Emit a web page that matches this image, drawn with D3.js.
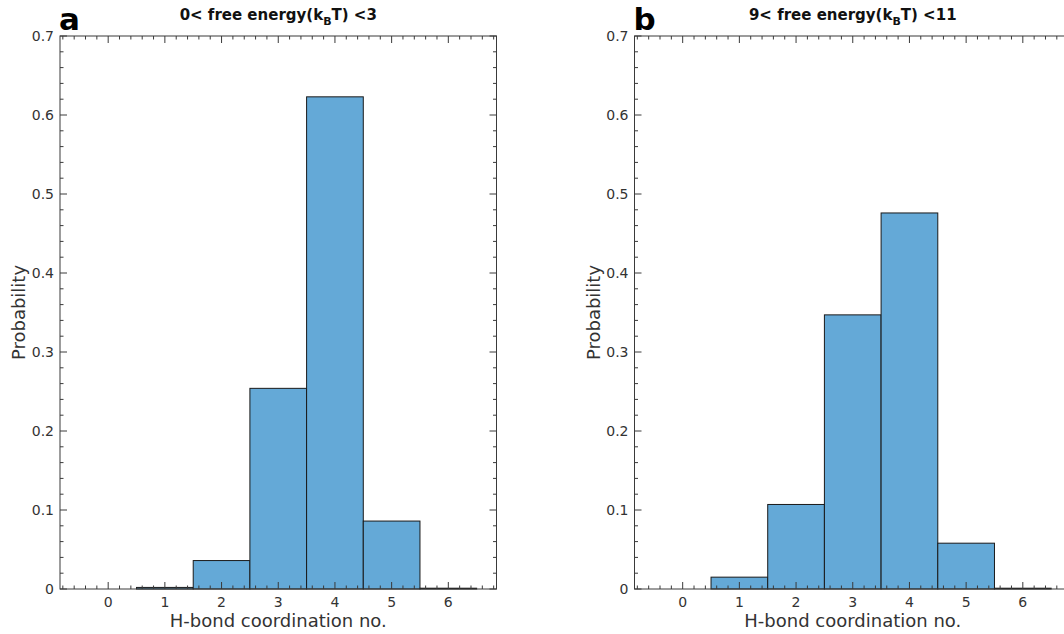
<!DOCTYPE html>
<html>
<head>
<meta charset="utf-8">
<script src="https://cdn.jsdelivr.net/npm/d3@7"></script>
<style>
  body { margin: 0; background: #fff; }
  svg { display: block; font-family: "DejaVu Sans", sans-serif; }
</style>
</head>
<body>
<svg width="1064" height="634"></svg>
<script>
var svg = d3.select("svg");

// data
var bins = [0, 1, 2, 3, 4, 5, 6];
var probA = [0, 0.002, 0.036, 0.254, 0.623, 0.086, 0.001];
var probB = [0, 0.015, 0.107, 0.347, 0.476, 0.058, 0.001];
var yTicks = [0, 0.1, 0.2, 0.3, 0.4, 0.5, 0.6, 0.7];
var yTickLabels = ["0", "0.1", "0.2", "0.3", "0.4", "0.5", "0.6", "0.7"];

var panels = [
  {letter: "a", left: 60, pre: "0< free energy(k", post: "T) <3", values: probA},
  {letter: "b", left: 634.5, pre: "9< free energy(k", post: "T) <11", values: probB}
];

var plotW = 436.5, plotTop = 36, plotBottom = 589;
var textColor = "#333", axisColor = "#3a3a3a";

panels.forEach(drawPanel);

function drawPanel(p) {
  var h = plotBottom - plotTop;
  var x = d3.scaleLinear().domain([-0.85, 6.85]).range([0, plotW]);
  var y = d3.scaleLinear().domain([0, 0.7]).range([h, 0]);

  var g = svg.append("g")
      .attr("transform", "translate(" + p.left + "," + plotTop + ")");

  // bars
  g.selectAll("rect.bar")
      .data(bins.filter(function(d, i) { return p.values[i] > 0; }))
    .enter().append("rect")
      .attr("class", "bar")
      .attr("x", function(d) { return x(d - 0.5); })
      .attr("width", function(d) { return x(d + 0.5) - x(d - 0.5); })
      .attr("y", function(d) { return y(p.values[d]); })
      .attr("height", function(d) { return h - y(p.values[d]); })
      .attr("fill", "#64a9d7")
      .attr("stroke", "#1a1a1a")
      .attr("stroke-width", 1);

  // ticks (inward, all four sides)
  var xMinor = d3.range(-0.8, 6.85, 0.2).filter(function(v) {
    return Math.abs(v - Math.round(v)) > 0.01;
  });
  var yMinor = d3.range(0.02, 0.7, 0.02).filter(function(v) {
    return Math.abs(v * 10 - Math.round(v * 10)) > 0.01;
  });

  var ticks = g.append("g")
      .attr("stroke", axisColor)
      .attr("stroke-width", 1);

  function xTick(v, len) {
    ticks.append("line").attr("x1", x(v)).attr("x2", x(v)).attr("y1", h).attr("y2", h - len);
    ticks.append("line").attr("x1", x(v)).attr("x2", x(v)).attr("y1", 0).attr("y2", len);
  }
  function yTick(v, len) {
    ticks.append("line").attr("x1", 0).attr("x2", len).attr("y1", y(v)).attr("y2", y(v));
    ticks.append("line").attr("x1", plotW).attr("x2", plotW - len).attr("y1", y(v)).attr("y2", y(v));
  }
  bins.forEach(function(v) { xTick(v, 7); });
  xMinor.forEach(function(v) { xTick(v, 3.5); });
  yTicks.forEach(function(v) { yTick(v, 7); });
  yMinor.forEach(function(v) { yTick(v, 3.5); });

  // frame
  g.append("rect")
      .attr("width", plotW)
      .attr("height", h)
      .attr("fill", "none")
      .attr("stroke", axisColor)
      .attr("stroke-width", 1);

  // tick labels
  g.selectAll("text.xt")
      .data(bins)
    .enter().append("text")
      .attr("class", "xt")
      .attr("x", function(d) { return x(d); })
      .attr("y", h + 18)
      .attr("text-anchor", "middle")
      .attr("font-size", 14)
      .attr("fill", textColor)
      .text(function(d) { return d; });

  g.selectAll("text.yt")
      .data(yTicks)
    .enter().append("text")
      .attr("class", "yt")
      .attr("x", -6)
      .attr("y", function(d) { return y(d); })
      .attr("dy", "0.35em")
      .attr("text-anchor", "end")
      .attr("font-size", 14)
      .attr("fill", textColor)
      .text(function(d, i) { return yTickLabels[i]; });

  // axis labels
  g.append("text")
      .attr("x", plotW / 2)
      .attr("y", h + 38)
      .attr("text-anchor", "middle")
      .attr("font-size", 18)
      .attr("fill", textColor)
      .text("H-bond coordination no.");

  g.append("text")
      .attr("transform", "translate(" + (-35) + "," + (h / 2) + ") rotate(-90)")
      .attr("text-anchor", "middle")
      .attr("font-size", 18)
      .attr("fill", textColor)
      .text("Probability");

  // title with subscript
  var t = g.append("text")
      .attr("x", plotW / 2)
      .attr("y", -16)
      .attr("text-anchor", "middle")
      .attr("font-size", 15)
      .attr("font-weight", "bold")
      .attr("fill", "#111");
  t.append("tspan").text(p.pre);
  t.append("tspan").attr("dy", 5).attr("font-size", 11).text("B");
  t.append("tspan").attr("dy", -5).text(p.post);

  // panel letter
  g.append("text")
      .attr("x", -1)
      .attr("y", -6)
      .attr("font-size", 31)
      .attr("font-weight", "bold")
      .attr("fill", "#000")
      .text(p.letter);
}
</script>
</body>
</html>
